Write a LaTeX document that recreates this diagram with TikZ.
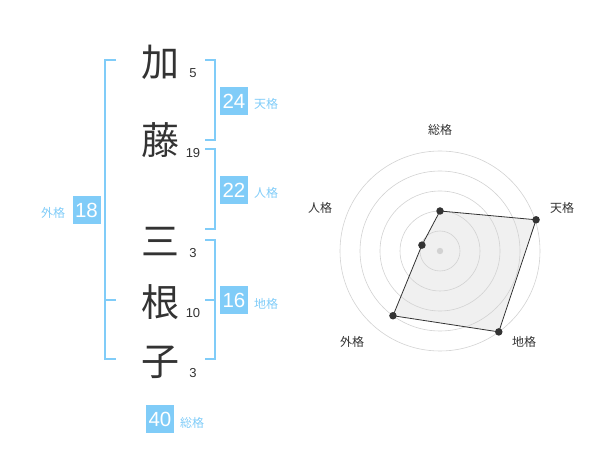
\documentclass[tikz,border=0pt]{standalone}
\usepackage{fontspec}
\setmainfont{Liberation Sans}
\newfontfamily\jp{Noto Sans CJK JP}
\usepackage{tikz}
\definecolor{kakublue}{RGB}{128,204,248}
\definecolor{inkgray}{RGB}{51,51,51}
\definecolor{ringgray}{RGB}{210,210,210}
\tikzstyle{kanji}=[text=inkgray, font=\jp\fontsize{38}{38}\selectfont, inner sep=0pt]
\tikzstyle{stroke}=[text=inkgray, font=\fontsize{13}{13}\selectfont, inner sep=0pt]
\tikzstyle{kakubox}=[fill=kakublue, text=white, minimum size=28pt, inner sep=0pt, font=\fontsize{20.5}{20.5}\selectfont]
\tikzstyle{kakuname}=[text=kakublue, font=\jp\fontsize{12}{12}\selectfont, inner sep=0pt]
\tikzstyle{bracket}=[draw=kakublue, line width=1.6pt]
\tikzstyle{axisname}=[text=inkgray, font=\jp\fontsize{12}{12}\selectfont, inner sep=0pt]
\tikzstyle{ring}=[draw=ringgray, line width=0.6pt]
\tikzstyle{dot}=[circle, fill=inkgray, inner sep=0pt, minimum size=7.5pt]

\begin{document}
\begin{tikzpicture}[x=1pt, y=-1pt]
                    \useasboundingbox (0,0) rectangle (600,470);
                    % name
                    \node[kanji] (k1) at (160, 62) {加};
                    \node[kanji] (k2) at (160,140) {藤};
                    \node[kanji] (k3) at (160,242) {三};
                    \node[kanji] (k4) at (160,302) {根};
                    \node[kanji] (k5) at (160,362) {子};
                    \node[stroke] (s1) at (193, 73) {5};
                    \node[stroke] (s2) at (193,153) {19};
                    \node[stroke] (s3) at (193,253) {3};
                    \node[stroke] (s4) at (193,313) {10};
                    \node[stroke] (s5) at (193,373) {3};
                    % brackets
                    \draw[bracket] (116, 60) -- (105, 60) -- (105,359) -- (116,359);
                    \draw[bracket] (105,300) -- (116,300);
                    \draw[bracket] (205, 60) -- (215, 60) -- (215,140) -- (205,140);
                    \draw[bracket] (205,149) -- (215,149) -- (215,229) -- (205,229);
                    \draw[bracket] (205,240) -- (215,240) -- (215,359) -- (205,359);
                    \draw[bracket] (205,300) -- (215,300);
                    % values
                    \node[kakubox] (ten)  at (234,101) {24};
                    \node[kakubox] (jin)  at (234,190) {22};
                    \node[kakubox] (chi)  at (234,300) {16};
                    \node[kakubox] (gai)  at (86.5,210) {18};
                    \node[kakubox] (sou)  at (160,419) {40};
                    \node[kakuname] at (266,104) {天格};
                    \node[kakuname] at (266,193) {人格};
                    \node[kakuname] at (266,304) {地格};
                    \node[kakuname] at (53,213) {外格};
                    \node[kakuname] at (192,423) {総格};
                    % radar
                    \coordinate (c) at (440,251);
                    \coordinate (rsou) at ([shift={(90:40pt)}]c);
                    \coordinate (rten) at ([shift={(18:101pt)}]c);
                    \coordinate (rchi) at ([shift={(-54:100pt)}]c);
                    \coordinate (rgai) at ([shift={(-126:80pt)}]c);
                    \coordinate (rjin) at ([shift={(162:19pt)}]c);
                    \fill[black!6] (rsou) -- (rten) -- (rchi) -- (rgai) -- (rjin) -- cycle;
                    \foreach \r in {20,40,60,80,100}
                        \draw[ring] (c) circle (\r pt);
                    \draw[inkgray, line width=0.8pt]
                        (rsou) -- (rten) -- (rchi) -- (rgai) -- (rjin) -- cycle;
                    \fill[ringgray] (c) circle (3.2pt);
                    \foreach \p in {rsou,rten,rchi,rgai,rjin}
                        \node[dot] at (\p) {};
                    \node[axisname] (asou) at (440,130) {総格};
                    \node[axisname] (aten) at (562,208) {天格};
                    \node[axisname] (ajin) at (320,208) {人格};
                    \node[axisname] (agai) at (352,342) {外格};
                    \node[axisname] (achi) at (524,342) {地格};
                \end{tikzpicture}
\end{document}
